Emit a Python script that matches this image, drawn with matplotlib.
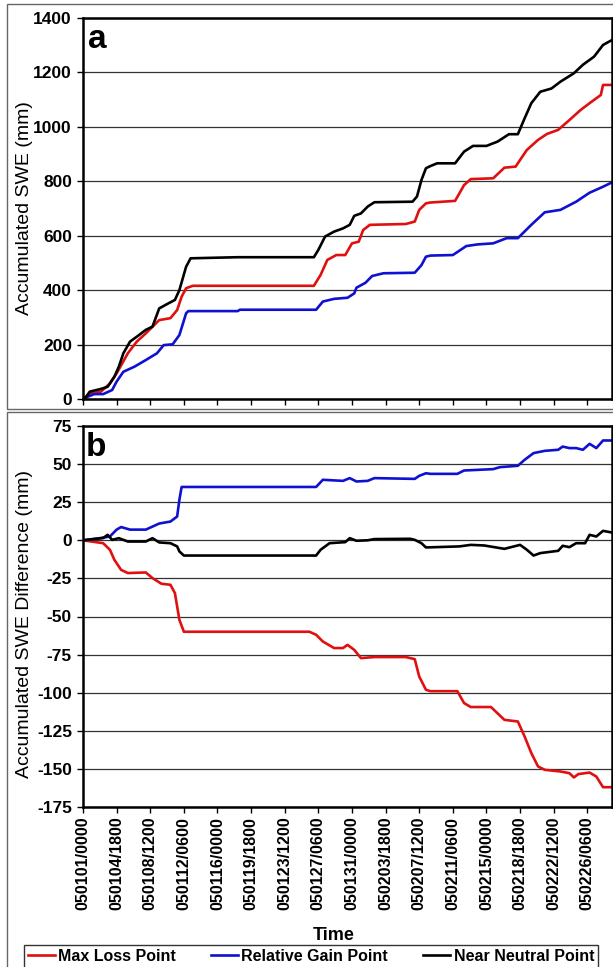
import numpy as np
import matplotlib
matplotlib.use('Agg')
import matplotlib.pyplot as plt
from matplotlib.patches import Rectangle

plt.rcParams['font.family'] = ['Liberation Sans', 'DejaVu Sans']
plt.rcParams['axes.unicode_minus'] = False

# time axis: index of 6-hourly step from 050101/0000
tick_idx = list(range(0, 226, 15))
tick_labels = ['050101/0000', '050104/1800', '050108/1200', '050112/0600',
               '050116/0000', '050119/1800', '050123/1200', '050127/0600',
               '050131/0000', '050203/1800', '050207/1200', '050211/0600',
               '050215/0000', '050218/1800', '050222/1200', '050226/0600']

# panel a: accumulated SWE (mm)
loss_x = [0, 3, 8, 12, 15, 20, 24, 28, 34, 39, 42, 44, 46, 49, 103, 106, 109, 113,
          117, 120, 123, 125, 128, 144, 148, 150, 153, 155, 166, 170, 173, 183, 188,
          193, 198, 203, 207, 212, 217, 222, 226, 231, 232, 236]
loss_y = [0, 20, 27, 57, 94, 168, 211, 241, 290, 297, 327, 376, 407, 416, 416, 456,
          511, 529, 529, 572, 578, 621, 640, 643, 652, 695, 719, 722, 728, 786, 808,
          811, 850, 854, 915, 952, 974, 989, 1025, 1062, 1087, 1117, 1154, 1154]

gain_x = [0, 2, 5, 9, 13, 15, 18, 23, 28, 33, 36, 40, 43, 46, 47, 69, 70, 104, 107,
          112, 118, 121, 122, 126, 129, 134, 148, 151, 153, 155, 165, 171, 176, 183,
          189, 194, 200, 206, 213, 220, 226, 232, 236]
gain_y = [0, 8, 18, 18, 33, 64, 100, 119, 143, 168, 198, 201, 235, 315, 323, 323,
          328, 328, 358, 368, 372, 388, 409, 427, 452, 462, 464, 492, 523, 527, 529,
          562, 568, 572, 591, 591, 640, 686, 695, 725, 758, 780, 796]

neut_x = [0, 1, 3, 8, 11, 14, 16, 18, 21, 25, 28, 31, 34, 38, 41, 43, 46, 48, 69,
          103, 105, 108, 112, 116, 119, 121, 124, 127, 130, 147, 149, 151, 153, 155,
          158, 166, 170, 174, 180, 185, 190, 194, 197, 200, 204, 209, 213, 219, 223,
          228, 232, 236]
neut_y = [0, 3, 27, 37, 45, 82, 119, 168, 211, 235, 254, 266, 333, 351, 364, 400,
          486, 517, 521, 521, 548, 597, 615, 627, 640, 673, 682, 707, 723, 725, 744,
          805, 848, 856, 866, 866, 909, 930, 930, 946, 973, 973, 1031, 1087, 1129,
          1141, 1166, 1197, 1228, 1258, 1301, 1319]

# panel b: accumulated SWE difference (mm)
dloss_x = [0, 9, 12, 14, 17, 20, 28, 31, 35, 39, 41, 42, 43, 45, 101, 104, 107,
           112, 116, 118, 121, 124, 130, 144, 148, 150, 153, 155, 167, 170, 173, 182,
           188, 194, 197, 200, 203, 206, 213, 217, 219, 221, 226, 229, 232, 236]
dloss_y = [0, -1.9, -6.2, -12.8, -19.4, -21.5, -21.1, -24.8, -28.5, -29.2, -34.6,
           -43.4, -52.2, -60, -60, -62, -66.4, -70.7, -70.7, -68.6, -71.9, -77.3,
           -76.6, -76.6, -78, -89.4, -98.1, -99, -99, -106.8, -109.4, -109.4, -117.8,
           -118.9, -128.7, -139.6, -148.4, -150.6, -151.7, -152.8, -155.6, -153.4,
           -152.4, -155, -162, -162]

dgain_x = [0, 8, 12, 15, 17, 21, 28, 34, 39, 42, 43, 44, 104, 107, 116, 119, 122,
           127, 130, 148, 150, 153, 155, 167, 170, 183, 186, 194, 197, 201, 206, 212,
           214, 217, 220, 223, 226, 229, 232, 236]
dgain_y = [0, 1.5, 2.5, 7, 8.7, 7, 7, 11, 12.3, 15.6, 26.6, 35, 35, 39.7, 39, 40.8,
           38.6, 39, 40.8, 40.3, 42.3, 44, 43.6, 43.6, 45.8, 46.7, 48, 48.9, 52.8,
           57.2, 58.7, 59.4, 61.5, 60.5, 60.5, 59.4, 63.3, 60.5, 65.5, 65.5]

dneut_x = [0, 9, 11, 13, 16, 20, 28, 31, 34, 39, 42, 43, 45, 104, 106, 110, 117,
           119, 122, 127, 130, 146, 148, 151, 153, 155, 168, 173, 179, 188, 195, 198,
           201, 204, 212, 214, 217, 220, 224, 226, 229, 232, 236]
dneut_y = [0, 1.5, 3.6, 0.3, 1.4, -0.8, -0.8, 1.4, -1.4, -1.9, -4, -7.3, -10, -10,
           -6.2, -1.9, -1.2, 1.4, -0.3, 0, 0.8, 1, 0.3, -1.9, -4.7, -4.6, -4, -3,
           -3.4, -5.6, -3, -6.2, -10, -8.4, -6.9, -3.6, -4.5, -1.9, -1.9, 3.6, 2.5,
           6.2, 5.1]

RED = '#e01010'
BLUE = '#1010d0'
BLACK = 'black'
LW = 1.9

fig = plt.figure(figsize=(6.13, 9.67), dpi=100)

# panel frames
fig.patches.append(Rectangle((7 / 613, 1 - 409 / 967), 1.0, 405 / 967,
                             transform=fig.transFigure, fill=False,
                             edgecolor='#666666', lw=1.0))
fig.patches.append(Rectangle((7 / 613, -0.05), 1.0, 1 - 412 / 967 + 0.05,
                             transform=fig.transFigure, fill=False,
                             edgecolor='#666666', lw=1.0))

ax1 = fig.add_axes([83 / 613, 1 - 399 / 967, 529 / 613, 381 / 967])
ax2 = fig.add_axes([83 / 613, 1 - 807 / 967, 529 / 613, 381 / 967])


def style(ax, yticks):
    ax.set_xlim(0, 236)
    ax.set_ylim(yticks[0], yticks[-1])
    ax.set_yticks(yticks)
    ax.set_xticks(tick_idx)
    ax.grid(axis='y', color='#333333', lw=0.9)
    ax.set_axisbelow(True)
    for s in ax.spines.values():
        s.set_linewidth(1.8)
    ax.tick_params(axis='both', direction='out', length=4, width=1.0)
    ax.tick_params(axis='y', labelsize=12.5, pad=4)
    for t in ax.get_yticklabels():
        t.set_fontweight('bold')


# top panel
ax1.plot(loss_x, loss_y, color=RED, lw=LW, label='Max Loss Point')
ax1.plot(gain_x, gain_y, color=BLUE, lw=LW, label='Relative Gain Point')
ax1.plot(neut_x, neut_y, color=BLACK, lw=LW, label='Near Neutral Point')
style(ax1, list(range(0, 1401, 200)))
ax1.set_xticklabels([])
ax1.set_ylabel('Accumulated SWE (mm)', fontsize=14)
ax1.yaxis.set_label_coords(-0.095, 0.5)
ax1.text(0.01, 0.985, 'a', transform=ax1.transAxes, fontsize=24,
         fontweight='bold', va='top', ha='left')

# bottom panel
ax2.plot(dloss_x, dloss_y, color=RED, lw=LW)
ax2.plot(dgain_x, dgain_y, color=BLUE, lw=LW)
ax2.plot(dneut_x, dneut_y, color=BLACK, lw=LW)
style(ax2, list(range(-175, 76, 25)))
ax2.set_xticklabels(tick_labels, rotation=90, fontsize=11.5, fontweight='bold')
ax2.tick_params(axis='x', pad=3)
ax2.set_ylabel('Accumulated SWE Difference (mm)', fontsize=14)
ax2.yaxis.set_label_coords(-0.095, 0.48)
ax2.set_xlabel('Time', fontsize=13, fontweight='bold')
ax2.xaxis.set_label_coords(0.474, -0.315)
ax2.text(0.005, 0.985, 'b', transform=ax2.transAxes, fontsize=24,
         fontweight='bold', va='top', ha='left')

handles, labels = ax1.get_legend_handles_labels()
leg = fig.legend(handles, labels, loc='upper center', ncol=3,
                 bbox_to_anchor=(311 / 613, 1 - 945 / 967),
                 prop={'weight': 'bold', 'size': 11.5}, frameon=True,
                 fancybox=False, edgecolor='black', handlelength=1.7,
                 handletextpad=0.2, columnspacing=2.2, borderpad=0.25,
                 borderaxespad=0)
leg.get_frame().set_linewidth(1.0)

fig.savefig('out.png', dpi=100)
